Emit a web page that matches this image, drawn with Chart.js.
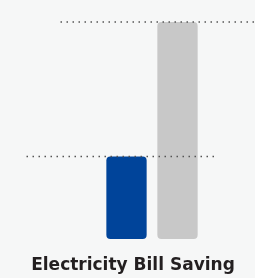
<!DOCTYPE html>
<html>
<head>
<meta charset="utf-8">
<script src="https://cdn.jsdelivr.net/npm/chart.js@4"></script>
<style>
  html, body { margin: 0; padding: 0; background: #f6f7f7; }
  #wrap { position: relative; width: 255px; height: 278px; }
  #title {
    position: absolute; left: 0; top: 253px; width: 266px;
    text-align: center;
    font-family: 'DejaVu Sans', sans-serif; font-weight: bold; font-size: 17px;
    color: #231f20; white-space: nowrap; line-height: 22px;
  }
</style>
</head>
<body>
<div id="wrap">
  <canvas id="savingChart"></canvas>
  <div id="title">Electricity Bill Saving</div>
</div>
<script>
// chart data
const categories = ['With solar', 'Without solar'];
const billValues = [38, 100];
const barColors = ['#00449a', '#c8c8c8'];

// dotted guide line at the top of each bar (extents relative to bar centre)
const dottedGuides = {
  id: 'dottedGuides',
  afterDatasetsDraw(chart, args, opts) {
    const ctx = chart.ctx;
    const meta = chart.getDatasetMeta(0);
    ctx.save();
    ctx.strokeStyle = '#555';
    ctx.lineWidth = 1.5;
    ctx.setLineDash([1.5, 4.5]);
    meta.data.forEach((bar, i) => {
      const ext = opts.extents[i];
      ctx.beginPath();
      ctx.moveTo(bar.x + ext[0], bar.y);
      ctx.lineTo(bar.x + ext[1], bar.y);
      ctx.stroke();
    });
    ctx.restore();
  }
};

const ctx = document.getElementById('savingChart').getContext('2d');
new Chart(ctx, {
  type: 'bar',
  data: {
    labels: categories,
    datasets: [{
      data: billValues,
      backgroundColor: barColors,
      borderRadius: 4,
      borderSkipped: false,
      barPercentage: 0.79,
      categoryPercentage: 1
    }]
  },
  options: {
    responsive: true,
    maintainAspectRatio: false,
    animation: false,
    layout: {
      padding: { left: 101, right: 52, top: 22, bottom: 39 }
    },
    plugins: {
      legend: { display: false },
      tooltip: { enabled: false },
      dottedGuides: { extents: [[-100, 90], [-117, 80]] }
    },
    scales: {
      x: { display: false },
      y: { display: false, min: 0, max: 100 }
    }
  },
  plugins: [dottedGuides]
});
</script>
</body>
</html>
